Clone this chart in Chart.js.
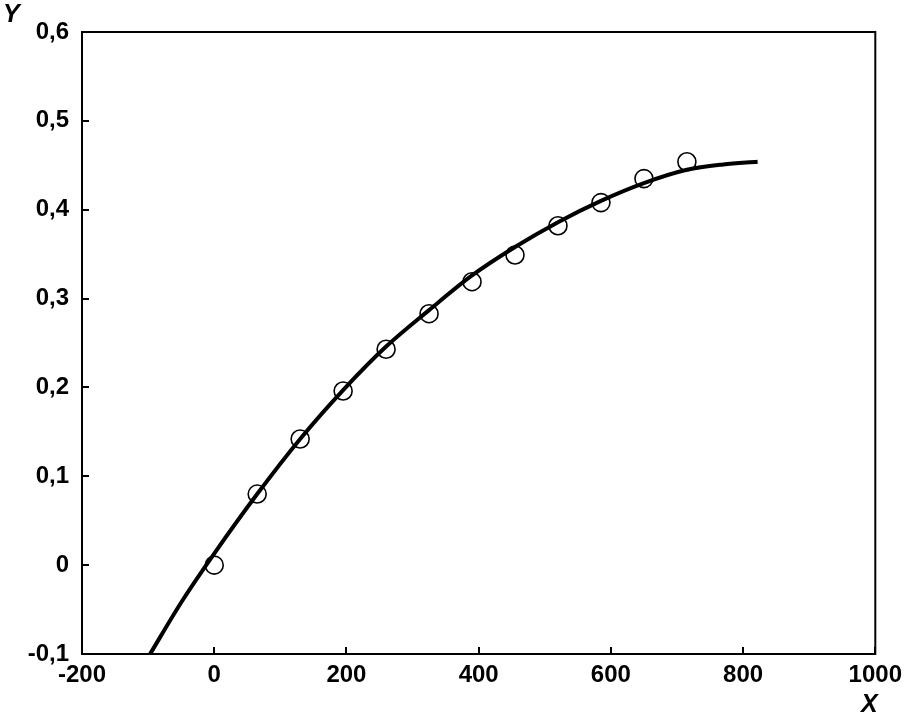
<!DOCTYPE html>
<html>
<head>
<meta charset="utf-8">
<script src="https://cdn.jsdelivr.net/npm/chart.js@4/dist/chart.umd.min.js"></script>
<style>
  html, body { margin: 0; padding: 0; background: #fff; }
  #wrap { width: 909px; height: 724px; position: relative; }
</style>
</head>
<body>
<div id="wrap"><canvas id="chart" width="909" height="724"></canvas></div>
<script>
// measured points (circles)
const pointX = [0, 65, 130, 195, 260, 325, 390, 455, 520, 585, 650, 715];
const pointY = [0, 0.080, 0.142, 0.196, 0.243, 0.283, 0.319, 0.349, 0.382, 0.408, 0.435, 0.454];

// fitted curve
const curveX = [-97, -50, 0, 65, 130, 195, 260, 325, 390, 455, 520, 585, 650, 715, 770, 822];
const curveY = [-0.1, -0.042, 0.013, 0.080, 0.142, 0.197, 0.246, 0.287, 0.326, 0.358, 0.386, 0.410, 0.430, 0.445, 0.451, 0.454];

const xTickLabels = ['-200', '0', '200', '400', '600', '800', '1000'];
const yTickLabels = ['-0,1', '0', '0,1', '0,2', '0,3', '0,4', '0,5', '0,6'];

const FONT = 'Liberation Sans, Arial, sans-serif';

// box, inward ticks and the axis letters
const frame = {
  id: 'frame',
  afterDraw(c) {
    const { ctx, chartArea: a, scales: { x, y } } = c;
    ctx.save();
    ctx.strokeStyle = '#000';
    ctx.lineWidth = 2;
    ctx.strokeRect(a.left, a.top, a.right - a.left, a.bottom - a.top);
    ctx.beginPath();
    x.ticks.forEach((t) => {
      const px = Math.round(x.getPixelForValue(t.value));
      ctx.moveTo(px, a.bottom);
      ctx.lineTo(px, a.bottom - 7);
    });
    y.ticks.forEach((t) => {
      const py = Math.round(y.getPixelForValue(t.value));
      ctx.moveTo(a.left, py);
      ctx.lineTo(a.left + 7, py);
    });
    ctx.stroke();

    ctx.fillStyle = '#000';
    ctx.font = `italic bold 25px ${FONT}`;
    ctx.textBaseline = 'alphabetic';
    ctx.textAlign = 'left';
    ctx.fillText('Y', 3, 22);
    ctx.fillText('X', 861, 712);
    ctx.restore();
  },
};

new Chart(document.getElementById('chart'), {
  type: 'scatter',
  data: {
    datasets: [
      {
        data: curveX.map((v, i) => ({ x: v, y: curveY[i] })),
        showLine: true,
        cubicInterpolationMode: 'monotone',
        borderColor: '#000',
        borderWidth: 4,
        pointRadius: 0,
        fill: false,
      },
      {
        data: pointX.map((v, i) => ({ x: v, y: pointY[i] })),
        pointRadius: 9,
        pointBorderWidth: 1.6,
        pointBorderColor: '#000',
        pointBackgroundColor: 'rgba(0,0,0,0)',
      },
    ],
  },
  options: {
    responsive: false,
    animation: false,
    clip: { left: false, right: false, top: false, bottom: 0 },
    layout: { padding: { left: 0, right: 30, top: 32, bottom: 0 } },
    plugins: { legend: { display: false }, tooltip: { enabled: false } },
    scales: {
      x: {
        type: 'linear',
        min: -200,
        max: 1000,
        ticks: {
          stepSize: 200,
          color: '#000',
          padding: 7,
          maxRotation: 0,
          font: { family: FONT, size: 24, weight: 'bold' },
          callback: (v) => xTickLabels[Math.round((v + 200) / 200)],
        },
        grid: { display: false, drawTicks: false },
        border: { display: false },
        afterFit: (s) => { s.height = 70; },
      },
      y: {
        min: -0.1,
        max: 0.6,
        ticks: {
          stepSize: 0.1,
          color: '#000',
          padding: 13,
          font: { family: FONT, size: 24, weight: 'bold' },
          callback: (v) => yTickLabels[Math.round((v + 0.1) * 10)],
        },
        grid: { display: false, drawTicks: false },
        border: { display: false },
        afterFit: (s) => { s.width = 82; },
      },
    },
  },
  plugins: [frame],
});
</script>
</body>
</html>
